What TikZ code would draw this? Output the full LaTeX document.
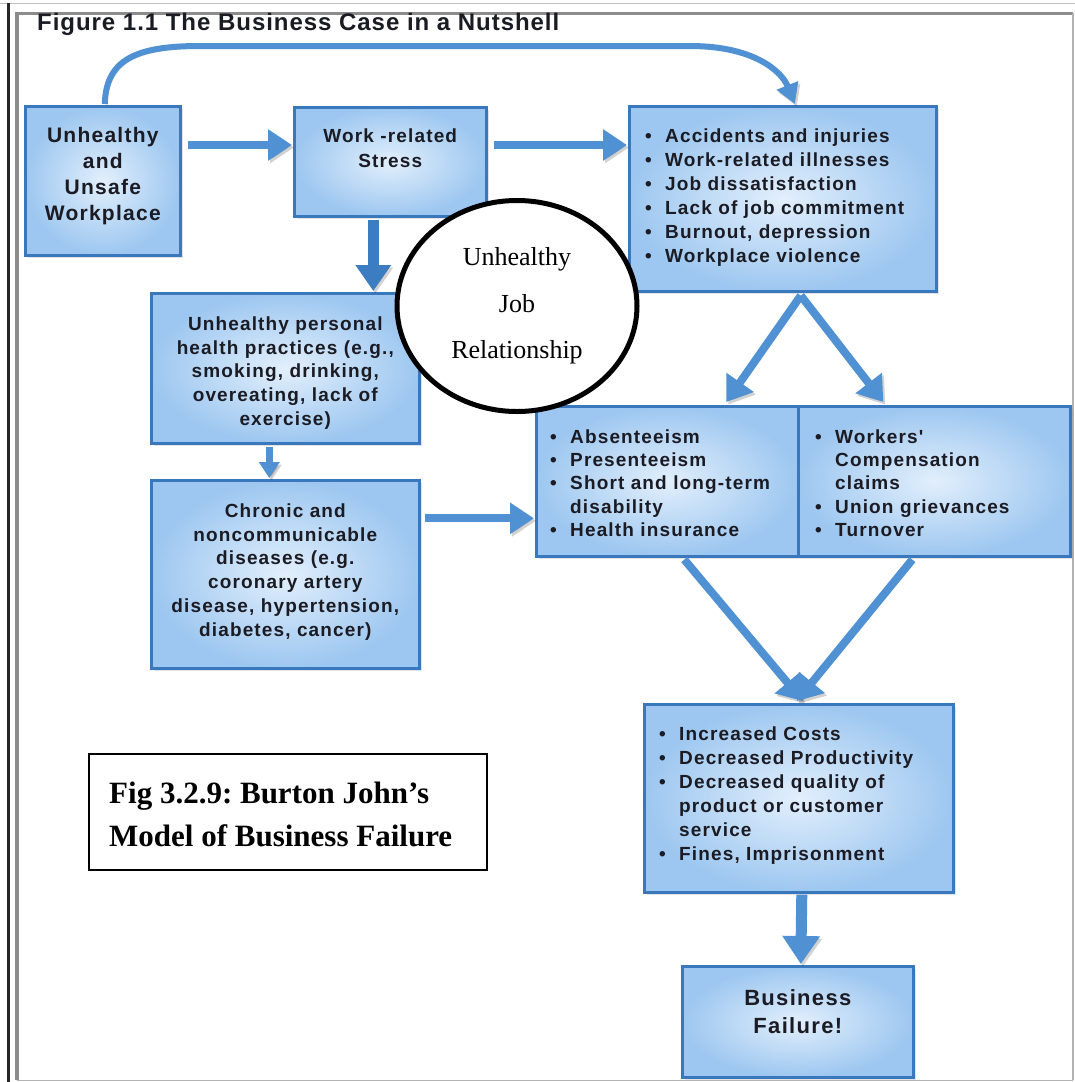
\documentclass[tikz,border=0pt]{standalone}
\usepackage{fontspec}
\setmainfont{Liberation Sans}
\newfontfamily\boxfont{Liberation Sans}[LetterSpace=6]
\newfontfamily\headfont{Liberation Sans}[LetterSpace=4]
\newfontfamily\romfont{Liberation Serif}
\usetikzlibrary{arrows.meta,shapes.geometric,shadows,calc}

\definecolor{boxline}{HTML}{3A78BD}
\definecolor{boxout}{HTML}{9DC7F0}
\definecolor{boxin}{HTML}{E2EFFC}
\definecolor{arrblue}{HTML}{4F91D3}
\definecolor{arrdark}{HTML}{3C7CC0}
\definecolor{ink}{HTML}{1B1B24}

% bullet item and hanging continuation line
\newcommand{\bitem}{\makebox[20pt][l]{\textbullet}}
\newcommand{\bcont}{\hspace*{20pt}}

\begin{document}
\frenchspacing
\begin{tikzpicture}[x=1pt,y=-1pt,
  flowbox/.style={draw=boxline, line width=2.6pt, rectangle, inner sep=0pt,
    inner color=boxin, outer color=boxout, anchor=north west,
    drop shadow={shadow xshift=3pt, shadow yshift=-3pt, opacity=0.22}},
  boxtext/.style={text=ink, inner sep=0pt, font=\boxfont\bfseries\fontsize{19}{24}\selectfont},
  arr/.style={draw=arrblue, line width=8pt, -{Triangle[width=30pt,length=24pt]},
    preaction={draw=black, opacity=0.18, transform canvas={shift={(2pt,-2.5pt)}}}},
]
\useasboundingbox (0,0) rectangle (1075,1082);
\fill[white] (0,0) rectangle (1075,1082);

% page frame
\draw[black!25, line width=0.8pt] (0,3) -- (1075,3);
\draw[black!85, line width=2.4pt] (8.5,3) -- (8.5,1082);
\draw[black!45, line width=3.5pt] (17,12) -- (17,1080);
\draw[black!45, line width=3pt] (17,13.5) -- (1073,13.5);
\draw[black!30, line width=1.5pt] (1073,13) -- (1073,1080);
\draw[black!30, line width=1.5pt] (17,1080.5) -- (1073,1080.5);

% heading
\node[anchor=base west, inner sep=0pt, text=ink,
  font=\headfont\bfseries\fontsize{24}{28}\selectfont] (title) at (37,30)
  {Figure 1.1 The Business Case in a Nutshell};

% boxes
\node[flowbox, minimum width=155pt, minimum height=149pt] (b1) at (24,105) {};
\node[flowbox, minimum width=192pt, minimum height=109pt] (b2) at (293,106) {};
\node[flowbox, minimum width=307pt, minimum height=185pt] (b3) at (628,105) {};
\node[flowbox, minimum width=268pt, minimum height=150pt] (b4) at (150,292) {};
\node[flowbox, minimum width=268pt, minimum height=188pt] (b5) at (150,479) {};
\node[flowbox, minimum width=262pt, minimum height=150pt] (b6) at (535,405) {};
\node[flowbox, minimum width=272pt, minimum height=150pt] (b7) at (797,405) {};
\node[flowbox, minimum width=309pt, minimum height=188pt] (b8) at (643,703) {};
\node[flowbox, minimum width=231pt, minimum height=111pt] (b9) at (681,965) {};

% box texts
\node[boxtext, anchor=north, align=center, font=\boxfont\bfseries\fontsize{21}{26}\selectfont]
  (b1t) at ($(b1.north)+(0,22)$) {Unhealthy\\and\\Unsafe\\Workplace};
\node[boxtext, anchor=north, align=center, font=\boxfont\bfseries\fontsize{19}{25}\selectfont]
  (b2t) at ($(b2.north)+(0,22.4)$) {Work -related\\Stress};
\node[boxtext, anchor=north west, align=left] (b3t) at ($(b3.north west)+(17,23.4)$)
  {\bitem Accidents and injuries\\\bitem Work-related illnesses\\\bitem Job dissatisfaction\\
   \bitem Lack of job commitment\\\bitem Burnout, depression\\\bitem Workplace violence};
\node[boxtext, anchor=north, align=center, font=\boxfont\bfseries\fontsize{19}{23.7}\selectfont]
  (b4t) at ($(b4.north)+(0,24.4)$)
  {Unhealthy personal\\health practices (e.g.,\\smoking, drinking,\\overeating, lack of\\exercise)};
\node[boxtext, anchor=north, align=center, font=\boxfont\bfseries\fontsize{19}{23.8}\selectfont]
  (b5t) at ($(b5.north)+(0,24.4)$)
  {Chronic and\\noncommunicable\\diseases (e.g.\\coronary artery\\disease, hypertension,\\diabetes, cancer)};
\node[boxtext, anchor=north west, align=left, font=\boxfont\bfseries\fontsize{19}{23.3}\selectfont]
  (b6t) at ($(b6.north west)+(15,24.4)$)
  {\bitem Absenteeism\\\bitem Presenteeism\\\bitem Short and long-term\\\bcont disability\\\bitem Health insurance};
\node[boxtext, anchor=north west, align=left, font=\boxfont\bfseries\fontsize{19}{23.3}\selectfont]
  (b7t) at ($(b7.north west)+(18,24.4)$)
  {\bitem Workers'\\\bcont Compensation\\\bcont claims\\\bitem Union grievances\\\bitem Turnover};
\node[boxtext, anchor=north west, align=left] (b8t) at ($(b8.north west)+(16,23.4)$)
  {\bitem Increased Costs\\\bitem Decreased Productivity\\\bitem Decreased quality of\\
   \bcont product or customer\\\bcont service\\\bitem Fines, Imprisonment};
\node[boxtext, anchor=north, align=center, font=\boxfont\bfseries\fontsize{22}{28}\selectfont]
  (b9t) at ($(b9.north)+(0,24)$) {Business\\Failure!};

% connectors
\draw[arr, line width=6pt, -{Triangle[width=22pt,length=20pt]}]
  ($(b1.north)+(2,-1)$) .. controls (106,60) and (135,46) .. (200,46)
  -- (690,46) .. controls (755,46) and (782,72) .. ($(b3.north)+(12,-1)$);
\draw[arr] ($(b1.north east)+(6,40)$) -- ($(b2.north west)+(-1,39)$);
\draw[arr] ($(b2.north east)+(6,39)$) -- ($(b3.north west)+(-1,40)$);
\draw[arr, draw=arrdark, line width=11pt, -{Triangle[width=34pt,length=26pt]}]
  ($(b2.south)+(-17,2)$) -- ($(b4.north)+(88,-1)$);
\draw[arr, line width=7pt, -{Triangle[width=20pt,length=16pt]}]
  ($(b4.south)+(-16,2)$) -- ($(b5.north)+(-16,-1)$);
\draw[arr] ($(b5.east)+(4,-56)$) -- ($(b6.west)+(-1,37)$);
\draw[arr, -{Triangle[width=32pt,length=24pt]}] ($(b3.south)+(18,3)$) -- ($(b6.north)+(59,-3)$);
\draw[arr, -{Triangle[width=32pt,length=24pt]}] ($(b3.south)+(18,3)$) -- ($(b7.north)+(-51,-3)$);
\draw[arr, -{Triangle[width=32pt,length=24pt]}] ($(b6.south)+(17,2)$) -- ($(b8.north)+(4,-2)$);
\draw[arr, -{Triangle[width=32pt,length=24pt]}] ($(b7.south)+(-22,2)$) -- ($(b8.north)+(-2,-2)$);
\draw[arr, line width=11pt, -{Triangle[width=36pt,length=28pt]}]
  ($(b8.south)+(3,1)$) -- ($(b9.north)+(3,-1)$);

% relationship ellipse
\node[ellipse, draw=black, line width=5pt, fill=white, inner sep=0pt,
  minimum width=240pt, minimum height=211pt, align=center,
  font=\romfont\fontsize{26}{46.5}\selectfont] (rel) at (517,306)
  {Unhealthy\\Job\\Relationship};

% caption
\node[draw=black, line width=2pt, anchor=north west, inner sep=0pt,
  minimum width=398pt, minimum height=116pt] (cap) at (88,753) {};
\node[anchor=north west, inner sep=0pt, align=left,
  font=\romfont\bfseries\fontsize{31}{43}\selectfont] (capt) at ($(cap.north west)+(21,29)$)
  {Fig 3.2.9: Burton John’s\\Model of Business Failure};
\end{tikzpicture}
\end{document}
